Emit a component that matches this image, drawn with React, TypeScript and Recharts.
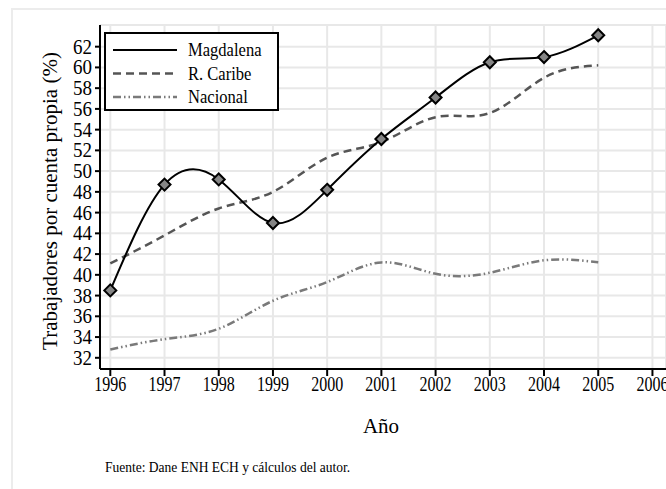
import { LineChart, Line, XAxis, YAxis, CartesianGrid, Legend, Label } from "recharts";

const years = [1996, 1997, 1998, 1999, 2000, 2001, 2002, 2003, 2004, 2005];
const magdalena = [38.5, 48.7, 49.2, 45.0, 48.2, 53.1, 57.1, 60.5, 61.0, 63.1];
const caribe = [41.1, 43.8, 46.4, 48.0, 51.3, 52.8, 55.2, 55.6, 59.0, 60.2];
const nacional = [32.8, 33.8, 34.8, 37.5, 39.3, 41.2, 40.1, 40.2, 41.4, 41.2];

const xTicks = [1996, 1997, 1998, 1999, 2000, 2001, 2002, 2003, 2004, 2005, 2006];
const yTicks = [32, 34, 36, 38, 40, 42, 44, 46, 48, 50, 52, 54, 56, 58, 60, 62];

const seriesNames = ["Magdalena", "R. Caribe", "Nacional"];

const data = years.map((year, i) => ({
  year,
  magdalena: magdalena[i],
  caribe: caribe[i],
  nacional: nacional[i],
}));

const FONT = "Liberation Serif, DejaVu Serif, serif";

const styles = [
  { stroke: "#000000", dash: undefined as string | undefined, width: 2 },
  { stroke: "#555555", dash: "8 5", width: 2.5 },
  { stroke: "#7a7a7a", dash: "8 3 1.5 3 1.5 3", width: 2.5 },
];

const Diamond = (props: any) => {
  const { cx, cy, index } = props;
  if (cx == null || cy == null) return null;
  const r = 6;
  return (
    <polygon
      key={`d-${index}`}
      points={`${cx},${cy - r} ${cx + r},${cy} ${cx},${cy + r} ${cx - r},${cy}`}
      fill="#858585"
      stroke="#000"
      strokeWidth={2}
    />
  );
};

const XTick = (props: any) => {
  const { x, y, payload } = props;
  return (
    <text
      transform={`translate(${x},${y + 13}) scale(0.8,1)`}
      textAnchor="middle"
      fontFamily={FONT}
      fontSize={20}
      fill="#000"
    >
      {payload.value}
    </text>
  );
};

const YTick = (props: any) => {
  const { x, y, payload } = props;
  return (
    <text
      transform={`translate(${x - 1},${y}) scale(0.95,1)`}
      dy="0.35em"
      textAnchor="end"
      fontFamily={FONT}
      fontSize={20}
      fill="#000"
    >
      {payload.value}
    </text>
  );
};

const LegendBox = () => (
  <svg width={176} height={80} style={{ display: "block" }}>
    <rect x={1} y={1} width={173} height={77} fill="#fff" stroke="#000" strokeWidth={2} />
    {seriesNames.map((name, i) => {
      const y = 18 + i * 23.5;
      return (
        <g key={name}>
          <line
            x1={9}
            x2={73}
            y1={y}
            y2={y}
            stroke={styles[i].stroke}
            strokeWidth={styles[i].width}
            strokeDasharray={styles[i].dash}
          />
          <text
            transform={`translate(84,${y}) scale(0.92,1)`}
            dy="0.35em"
            fontFamily={FONT}
            fontSize={18}
            fill="#000"
          >
            {name}
          </text>
        </g>
      );
    })}
  </svg>
);

export default function App() {
  return (
    <div
      style={{
        position: "fixed",
        left: 0,
        top: 0,
        width: 666,
        height: 489,
        overflow: "hidden",
        background: "#fff",
      }}
    >
      <div
        style={{
          position: "absolute",
          left: 11,
          top: 8,
          width: 720,
          height: 600,
          border: "2px solid #ececec",
        }}
      />
      <div style={{ position: "absolute", left: 0, top: 0 }}>
        <LineChart
          width={666}
          height={489}
          data={data}
          margin={{ top: 25, right: 0, left: 0, bottom: 0 }}
        >
          <CartesianGrid stroke="#e8e8e8" strokeWidth={2} />
          <XAxis
            dataKey="year"
            type="number"
            domain={[1995.81, 2006.25]}
            ticks={xTicks}
            interval={0}
            allowDataOverflow
            height={120}
            tickSize={7}
            axisLine={{ stroke: "#000", strokeWidth: 2 }}
            tickLine={{ stroke: "#000", strokeWidth: 2 }}
            tick={<XTick />}
          >
            <Label
              content={() => (
                <text
                  x={381}
                  y={433}
                  textAnchor="middle"
                  fontFamily={FONT}
                  fontSize={21}
                  fill="#000"
                >
                  Año
                </text>
              )}
            />
          </XAxis>
          <YAxis
            type="number"
            domain={[30.92, 64.09]}
            ticks={yTicks}
            interval={0}
            allowDataOverflow
            width={100}
            tickSize={5}
            axisLine={{ stroke: "#000", strokeWidth: 2 }}
            tickLine={{ stroke: "#000", strokeWidth: 2 }}
            tick={<YTick />}
          >
            <Label
              content={() => (
                <text
                  transform="translate(50,201) rotate(-90)"
                  textAnchor="middle"
                  dy="0.35em"
                  fontFamily={FONT}
                  fontSize={21}
                  fill="#000"
                >
                  Trabajadores por cuenta propia (%)
                </text>
              )}
            />
          </YAxis>
          <Legend
            layout="horizontal"
            verticalAlign="middle"
            align="center"
            content={<LegendBox />}
            wrapperStyle={{ left: 104, top: 32, width: 176, height: 80 }}
          />
          <Line
            type="natural"
            dataKey="nacional"
            name={seriesNames[2]}
            stroke={styles[2].stroke}
            strokeWidth={styles[2].width}
            strokeDasharray={styles[2].dash}
            dot={false}
            isAnimationActive={false}
          />
          <Line
            type="natural"
            dataKey="caribe"
            name={seriesNames[1]}
            stroke={styles[1].stroke}
            strokeWidth={styles[1].width}
            strokeDasharray={styles[1].dash}
            dot={false}
            isAnimationActive={false}
          />
          <Line
            type="natural"
            dataKey="magdalena"
            name={seriesNames[0]}
            stroke={styles[0].stroke}
            strokeWidth={styles[0].width}
            dot={<Diamond />}
            isAnimationActive={false}
          />
        </LineChart>
      </div>
      <div
        style={{
          position: "absolute",
          left: 105,
          top: 459,
          fontFamily: FONT,
          fontSize: 15,
          lineHeight: "17px",
          whiteSpace: "nowrap",
          transform: "scaleX(0.9)",
          transformOrigin: "left top",
          color: "#000",
        }}
      >
        Fuente: Dane ENH ECH y cálculos del autor.
      </div>
    </div>
  );
}
